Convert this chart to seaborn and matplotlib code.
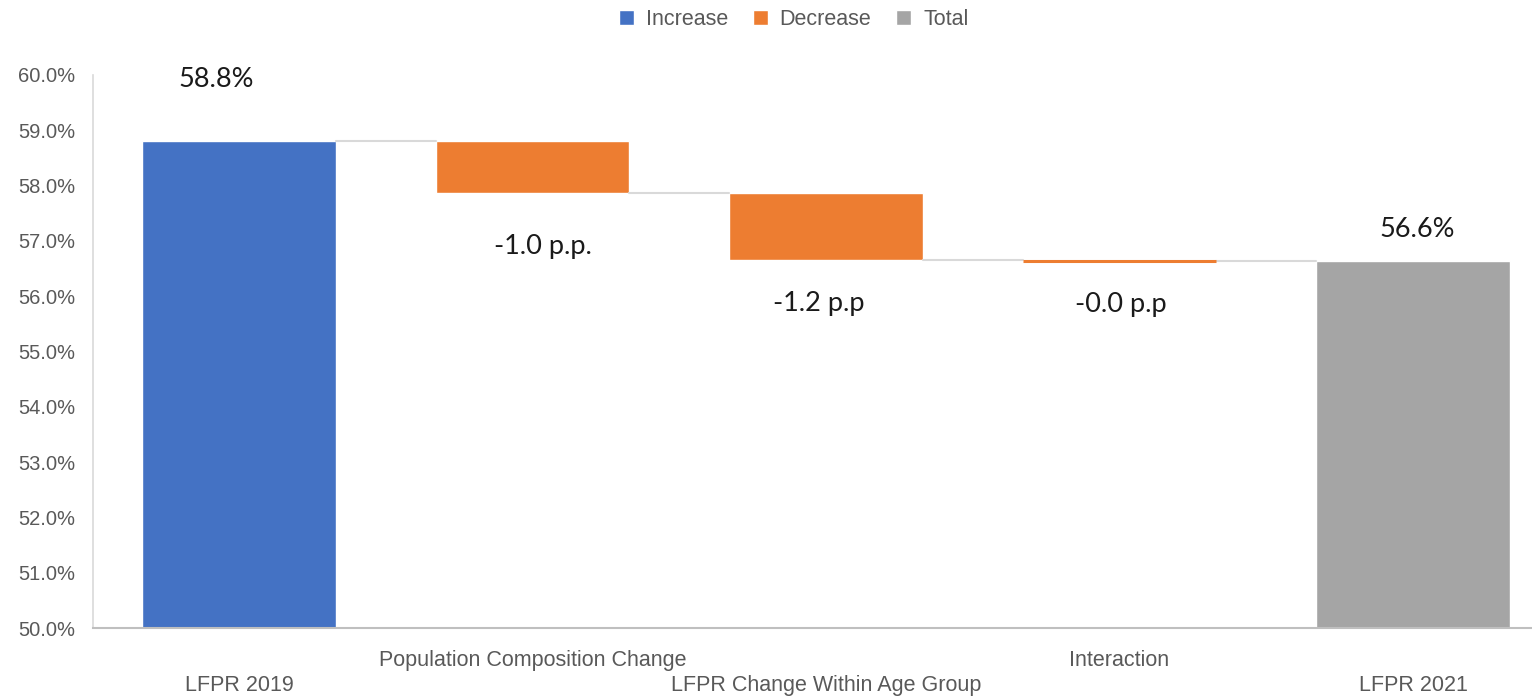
import seaborn as sns
import matplotlib.pyplot as plt
import pandas as pd
import numpy as np

# waterfall data (percent)
categories = ["LFPR 2019", "Population Composition Change",
              "LFPR Change Within Age Group", "Interaction", "LFPR 2021"]
start_value = 58.81
changes = [-0.94, -1.21, -0.02]
kinds = ["Increase", "Decrease", "Decrease", "Decrease", "Total"]
value_labels = ["58.8%", "-1.0 p.p.", "-1.2 p.p", "-0.0 p.p", "56.6%"]

# build tops / bottoms of each floating bar
running = [start_value]
for c in changes:
    running.append(running[-1] + c)
end_value = running[-1]
tops = [start_value] + [running[i] for i in range(len(changes))] + [end_value]
bottoms = [0] + [running[i + 1] for i in range(len(changes))] + [0]

df = pd.DataFrame({"category": categories, "top": tops, "bottom": bottoms, "kind": kinds})

sns.set_style("white")
plt.rcParams['font.family'] = ['Liberation Sans', 'DejaVu Sans']

palette = {"Increase": "#4472C4", "Decrease": "#ED7D31", "Total": "#A5A5A5"}
grey_text = "#595959"
bar_w = 0.66

fig = plt.figure(figsize=(15.32, 6.97), dpi=100)
ax = fig.add_axes([93 / 1532, 69 / 697, 1 - 93 / 1532, (628 - 75) / 697])

# coloured bars up to the top, then white bars hide the part below each floating bar
sns.barplot(data=df, x="category", y="top", hue="kind", palette=palette,
            hue_order=["Increase", "Decrease", "Total"], dodge=False,
            width=bar_w, saturation=1, ax=ax, legend=True)
sns.barplot(data=df, x="category", y="bottom", color="white", width=bar_w + 0.02,
            saturation=1, ax=ax)

# connector lines between bars
half = bar_w / 2
levels = [start_value] + running[1:]
for i, lvl in enumerate(levels):
    ax.plot([i + half, i + 1 - half], [lvl, lvl], color="#D9D9D9", lw=1.5, zorder=3)

# very thin floating bars (e.g. Interaction) drawn as a line so they stay visible
for i in range(1, len(categories) - 1):
    if tops[i] - bottoms[i] < 0.05:
        ax.plot([i - half, i + half], [bottoms[i], bottoms[i]],
                color=palette[kinds[i]], lw=2.2, zorder=4, solid_capstyle="butt")

ax.set_ylim(50, 60)
ax.set_xlim(-0.497, 4.405)
ax.set_yticks(np.arange(50, 60.5, 1))
ax.set_yticklabels([f"{v:.1f}%" for v in np.arange(50, 60.5, 1)])
ax.set_xlabel("")
ax.set_ylabel("")
ax.tick_params(axis="both", length=0, labelcolor=grey_text)
ax.tick_params(axis="y", pad=13, labelsize=14.5)
ax.tick_params(axis="x", labelsize=15.5)

# staggered category labels
for i, tick in enumerate(ax.xaxis.get_major_ticks()):
    tick.set_pad(34 if i % 2 == 0 else 15.5)

for side in ["top", "right"]:
    ax.spines[side].set_visible(False)
ax.spines["left"].set_color("#D9D9D9")
ax.spines["bottom"].set_color("#BFBFBF")
ax.spines["left"].set_linewidth(1.2)
ax.spines["bottom"].set_linewidth(1.5)

# value labels (offsets in pixels from bar end)
offsets = [(-23, 61), (10, -54), (-7, -44), (1, -44), (4, 31)]
for i, (lab, (dx, dy)) in enumerate(zip(value_labels, offsets)):
    anchor = tops[i] if dy > 0 else bottoms[i]
    ax.annotate(lab, (i, anchor), xytext=(dx * 0.72, dy * 0.72), textcoords="offset points",
                ha="center", va="center", fontsize=19.5, color="#1a1a1a",
                family=["Lato", "DejaVu Sans"], annotation_clip=False)

# legend at top
handles, labels = ax.get_legend_handles_labels()
ax.get_legend().remove()
fig.legend(handles[:3], labels[:3], loc="center", bbox_to_anchor=(0.518, 0.972), ncol=3,
           frameon=False, fontsize=15.5, labelcolor=grey_text, handlelength=0.7,
           handleheight=0.7, handletextpad=0.55, columnspacing=1.15)

plt.savefig("out.png", dpi=100)
